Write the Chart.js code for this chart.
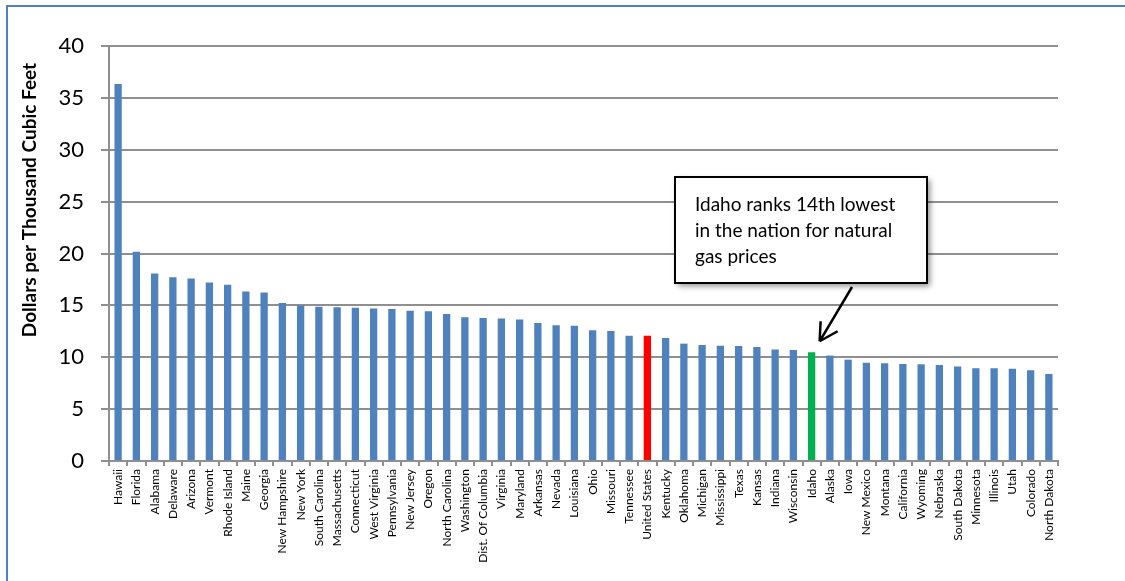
<!DOCTYPE html>
<html lang="en">
<head>
    <meta charset="UTF-8">
    <title>Natural Gas Prices by State</title>
    <script src="https://cdn.jsdelivr.net/npm/chart.js"></script>
    <style>
        body {
            margin: 0;
            background-color: #fff;
        }
        canvas {
            display: block;
        }
    </style>
</head>
<body>

<canvas id="gasChart" width="1125" height="581"></canvas>

<script>
// states ranked from highest to lowest price
const states = ['Hawaii', 'Florida', 'Alabama', 'Delaware', 'Arizona', 'Vermont', 'Rhode Island', 'Maine',
    'Georgia', 'New Hampshire', 'New York', 'South Carolina', 'Massachusetts', 'Connecticut', 'West Virginia',
    'Pennsylvania', 'New Jersey', 'Oregon', 'North Carolina', 'Washington', 'Dist. Of Columbia', 'Virginia',
    'Maryland', 'Arkansas', 'Nevada', 'Louisiana', 'Ohio', 'Missouri', 'Tennessee', 'United States',
    'Kentucky', 'Oklahoma', 'Michigan', 'Mississippi', 'Texas', 'Kansas', 'Indiana', 'Wisconsin', 'Idaho',
    'Alaska', 'Iowa', 'New Mexico', 'Montana', 'California', 'Wyoming', 'Nebraska', 'South Dakota',
    'Minnesota', 'Illinois', 'Utah', 'Colorado', 'North Dakota'];

// dollars per thousand cubic feet
const prices = [36.33, 20.16, 18.07, 17.72, 17.59, 17.20, 16.98, 16.33,
    16.24, 15.24, 14.98, 14.86, 14.82, 14.76, 14.69,
    14.66, 14.47, 14.44, 14.16, 13.85, 13.79, 13.73,
    13.63, 13.31, 13.09, 13.03, 12.61, 12.52, 12.07, 12.07,
    11.85, 11.31, 11.18, 11.11, 11.08, 10.99, 10.75, 10.71, 10.48,
    10.16, 9.77, 9.48, 9.42, 9.35, 9.32, 9.26, 9.10,
    8.94, 8.94, 8.90, 8.74, 8.39];

const yTicks = [0, 5, 10, 15, 20, 25, 30, 35, 40];

const yTitle = 'Dollars per Thousand Cubic Feet';
const noteLines = ['Idaho ranks 14th lowest', 'in the nation for natural', 'gas prices'];

const BLUE = '#4F81BD';
const GRID = '#8f8f8f';

// the US average is red, Idaho green, everything else blue
const barColors = states.map(function(s) {
    if (s === 'United States') return '#FF0000';
    if (s === 'Idaho') return '#00B050';
    return BLUE;
});

// frame, axis title and the callout box
const extras = {
    id: 'extras',
    beforeDraw(chart) {
        const ctx = chart.ctx;
        ctx.save();
        ctx.fillStyle = '#fff';
        ctx.fillRect(0, 0, chart.width, chart.height);
        ctx.strokeStyle = BLUE;
        ctx.lineWidth = 2;
        ctx.beginPath();
        ctx.moveTo(7, chart.height);
        ctx.lineTo(7, 6);
        ctx.lineTo(chart.width, 6);
        ctx.stroke();
        ctx.restore();
    },
    afterDraw(chart) {
        const ctx = chart.ctx;
        const xs = chart.scales.x;
        const ys = chart.scales.y;

        // y axis title
        ctx.save();
        ctx.translate(30, 200);
        ctx.rotate(-Math.PI / 2);
        ctx.font = 'bold 19px Lato';
        ctx.fillStyle = '#000';
        ctx.textAlign = 'center';
        ctx.textBaseline = 'middle';
        ctx.fillText(yTitle, 0, 0);
        ctx.restore();

        // callout box
        const bx = 675, by = 177, bw = 252, bh = 106;
        ctx.save();
        ctx.shadowColor = 'rgba(0,0,0,0.45)';
        ctx.shadowBlur = 6;
        ctx.shadowOffsetX = 3;
        ctx.shadowOffsetY = 3;
        ctx.fillStyle = '#fff';
        ctx.fillRect(bx, by, bw, bh);
        ctx.restore();

        ctx.save();
        ctx.strokeStyle = '#000';
        ctx.lineWidth = 2;
        ctx.strokeRect(bx, by, bw, bh);
        ctx.font = '19px Lato';
        ctx.fillStyle = '#000';
        ctx.textBaseline = 'middle';
        noteLines.forEach(function(line, i) {
            ctx.fillText(line, 695, 205 + i * 26);
        });

        // arrow pointing at Idaho
        const idx = states.indexOf('Idaho');
        const tipX = xs.getPixelForValue(idx) + 8;
        const tipY = ys.getPixelForValue(prices[idx]) - 11;
        const startX = 852, startY = 287;
        ctx.lineWidth = 2.5;
        ctx.beginPath();
        ctx.moveTo(startX, startY);
        ctx.lineTo(tipX, tipY);
        ctx.moveTo(tipX, tipY);
        ctx.lineTo(tipX + 1, tipY - 20);
        ctx.moveTo(tipX, tipY);
        ctx.lineTo(tipX + 18, tipY - 10);
        ctx.stroke();
        ctx.restore();
    }
};

new Chart(document.getElementById('gasChart').getContext('2d'), {
    type: 'bar',
    data: {
        labels: states,
        datasets: [{
            data: prices,
            backgroundColor: barColors,
            barPercentage: 0.4,
            categoryPercentage: 1.0
        }]
    },
    options: {
        responsive: false,
        animation: false,
        devicePixelRatio: 1,
        layout: {
            padding: { left: 0, top: 46, right: 67, bottom: 0 }
        },
        plugins: {
            legend: { display: false },
            tooltip: { enabled: false }
        },
        scales: {
            x: {
                afterFit: function(scale) { scale.height = 120; },
                grid: {
                    offset: true,
                    drawOnChartArea: false,
                    drawTicks: true,
                    tickLength: 5,
                    color: GRID,
                    lineWidth: 2
                },
                border: { color: GRID, width: 2 },
                ticks: {
                    autoSkip: false,
                    minRotation: 90,
                    maxRotation: 90,
                    padding: 3,
                    color: '#000',
                    font: { family: 'Lato', size: 12 }
                }
            },
            y: {
                min: 0,
                max: 40,
                afterFit: function(scale) { scale.width = 109; },
                afterBuildTicks: function(scale) {
                    scale.ticks = yTicks.map(function(v) { return { value: v }; });
                },
                grid: {
                    color: GRID,
                    lineWidth: 2,
                    drawTicks: true,
                    tickLength: 8
                },
                border: { color: GRID, width: 2 },
                ticks: {
                    padding: 17,
                    color: '#000',
                    font: { family: 'Lato', size: 22 }
                }
            }
        }
    },
    plugins: [extras]
});
</script>

</body>
</html>
